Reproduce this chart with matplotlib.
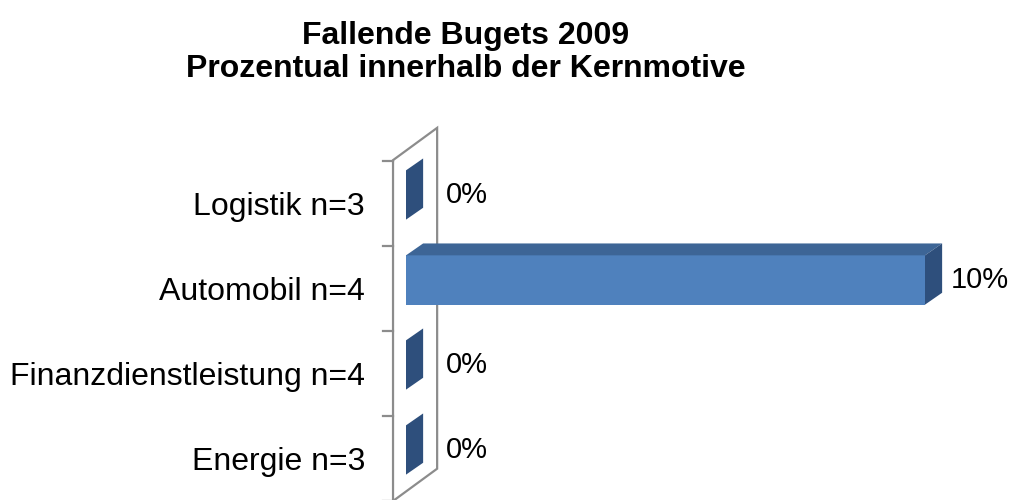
import numpy as np
import matplotlib
matplotlib.use("Agg")
import matplotlib.pyplot as plt
from matplotlib.patches import Polygon, Rectangle

plt.rcParams['font.family'] = ['Liberation Sans', 'DejaVu Sans']

# data (bottom -> top)
categories = ['Energie n=3', 'Finanzdienstleistung n=4', 'Automobil n=4', 'Logistik n=3']
values = [0, 0, 10, 0]
value_labels = ['0%', '0%', '10%', '0%']

front_col = '#4F81BD'
top_col = '#3D6596'
side_col = '#2E4F7C'
wall_col = '#8C8C8C'

fig = plt.figure(figsize=(10.14, 5.0), dpi=100)
# axes placed so that 0% sits at x=406px and 10% at x=925px
ax = fig.add_axes([406 / 1014, 7.5 / 500, 519 / 1014, 340 / 500])
ax.set_xlim(0, 10)
ax.set_ylim(-0.5, 3.5)
ax.axis('off')

DX, DY = 0.33, 0.14   # depth of the bars in data units
h = 0.29              # half bar height

# back wall
wdx, wdy = 0.85, 0.38
x0 = -0.25
ybot, ytop = -0.6, 3.41
wall = Polygon([(x0, ybot), (x0, ytop), (x0 + wdx, ytop + wdy), (x0 + wdx, ybot + wdy)],
               closed=True, facecolor='white', edgecolor=wall_col, lw=1.6,
               clip_on=False, zorder=1)
ax.add_patch(wall)
for t in np.arange(len(categories) + 1) - 0.6:
    ax.plot([x0 - 0.19, x0], [t, t], color=wall_col, lw=1.6, clip_on=False, zorder=1)

y = np.arange(len(categories))
for yi, v in zip(y, values):
    if v > 0:
        ax.add_patch(Rectangle((0, yi - h), v, 2 * h, facecolor=front_col,
                               edgecolor='none', clip_on=False, zorder=3))
        ax.add_patch(Polygon([(0, yi + h), (v, yi + h), (v + DX, yi + h + DY), (DX, yi + h + DY)],
                             closed=True, facecolor=top_col, edgecolor='none',
                             clip_on=False, zorder=3))
    ax.add_patch(Polygon([(v, yi - h), (v, yi + h), (v + DX, yi + h + DY), (v + DX, yi - h + DY)],
                         closed=True, facecolor=side_col, edgecolor='none',
                         clip_on=False, zorder=3))

for yi, v, lab in zip(y, values, value_labels):
    lx = max(v + DX, x0 + wdx) + 0.17
    ax.text(lx, yi, lab, ha='left', va='center', fontsize=21, clip_on=False)

for yi, cat in zip(y, categories):
    ax.text(-0.79, yi - 0.14, cat, ha='right', va='center', fontsize=23, clip_on=False)

fig.text(0.459, 0.895, 'Fallende Bugets 2009\nProzentual innerhalb der Kernmotive',
         ha='center', va='center', fontsize=23, fontweight='bold', linespacing=1.17)

fig.savefig('out.png', dpi=100)
